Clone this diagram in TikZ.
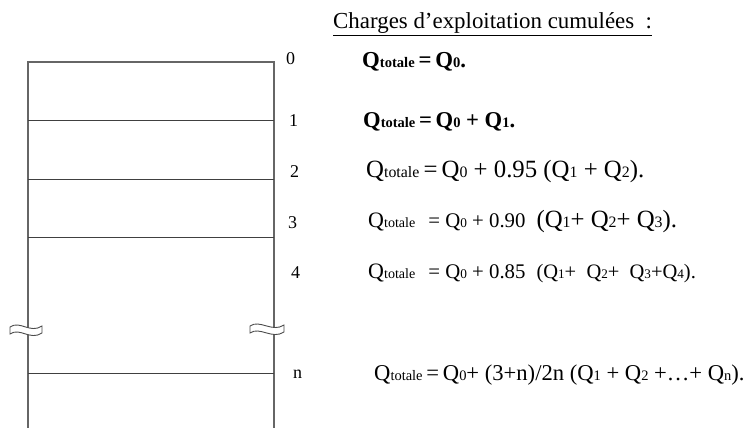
\documentclass[tikz,border=0pt]{standalone}
\usepackage{fontspec}
\setmainfont{Liberation Serif}
% petits caracteres (indices ecrits sur la ligne)
\makeatletter
\newcommand{\pt}[1]{{\fontsize{\fpeval{0.64*\f@size}}{0}\selectfont #1}}
\makeatother
\newcommand{\fs}[1]{\fontsize{#1}{#1}\selectfont}
\newcommand{\Qt}{Q\pt{totale}}
\begin{document}
\begin{tikzpicture}[
        x=1pt, y=-1pt,
        mur/.style={draw=black!60, line width=1.6pt},
        plancher/.style={draw=black!75, line width=1pt},
        niveau/.style={anchor=base west, inner sep=0pt, font=\fs{18}},
        formule/.style={anchor=base west, inner sep=0pt},
        rupture/.style={draw=black!70, line width=0.9pt, fill=white}
    ]
    \useasboundingbox (0,0) rectangle (753,428);
    % abscisses des murs
    \def\xg{28}
    \def\xd{274}

    % --- murs et planchers ---
    \coordinate (G0) at (\xg,62);
    \coordinate (D0) at (\xd,62);
    \coordinate (Gb) at (\xg,428);
    \coordinate (Db) at (\xd,428);
    \draw[mur] (Gb) -- (G0) -- (D0) -- (Db);
    \foreach \n/\y in {1/120, 2/179, 3/237, n/373} {
        \coordinate (G\n) at (\xg,\y);
        \coordinate (D\n) at (\xd,\y);
        \draw[plancher] (G\n) -- (D\n);
    }

    % --- coupures (tronçon non représenté) ---
    \draw[rupture] (10,327) .. controls (20,320) and (30,334) .. (42,326)
        -- (42,333) .. controls (30,341) and (20,327) .. (10,334) -- cycle;
    \draw[rupture] (250,326) .. controls (260,319) and (272,333) .. (284,325)
        -- (284,332) .. controls (272,340) and (260,326) .. (250,333) -- cycle;

    % --- numeros des niveaux ---
    \node[niveau] (l0) at (286,65) {0};
    \node[niveau] (l1) at (289,126) {1};
    \node[niveau] (l2) at (290,177) {2};
    \node[niveau] (l3) at (288,228) {3};
    \node[niveau] (l4) at (291,278) {4};
    \node[niveau] (ln) at (293,378) {n};

    % --- titre ---
    \node[anchor=base west, inner sep=0pt, font=\fs{22.9}] (titre) at (333,29)
        {\underline{Charges d’exploitation cumulées~ :}};

    % --- charges cumulees ---
    \node[formule, font=\fs{22.8}\bfseries] (f0) at (362,67)
        {\Qt\,=\,Q\pt{0}.};
    \node[formule, font=\fs{22.6}\bfseries] (f1) at (363,128)
        {\Qt\,=\,Q\pt{0} + Q\pt{1}.};
    \node[formule, font=\fs{24.8}] (f2) at (366,177)
        {\Qt\,=\,Q\pt{0} + 0.95 (Q\pt{1} + Q\pt{2}).};
    \node[formule, font=\fs{22}] (f3) at (368,227)
        {\Qt\hspace{13pt}{\fs{20.8}= Q\pt{0} + 0.90}\hspace{11pt}{\fs{24.8}(Q\pt{1}+ Q\pt{2}+ Q\pt{3}).}};
    \node[formule, font=\fs{22}] (f4) at (368,278)
        {\Qt\hspace{13pt}{\fs{20.8}= Q\pt{0} + 0.85}\hspace{11pt}{\fs{20.5}(Q\pt{1}+~ Q\pt{2}+~ Q\pt{3}+Q\pt{4}).}};
    \node[formule, font=\fs{22.6}] (fn) at (374,380)
        {\Qt\,=\,Q\pt{0}+ (3+n)/2n (Q\pt{1} + Q\pt{2} +\ldots+ Q\pt{n}).};
\end{tikzpicture}
\end{document}
